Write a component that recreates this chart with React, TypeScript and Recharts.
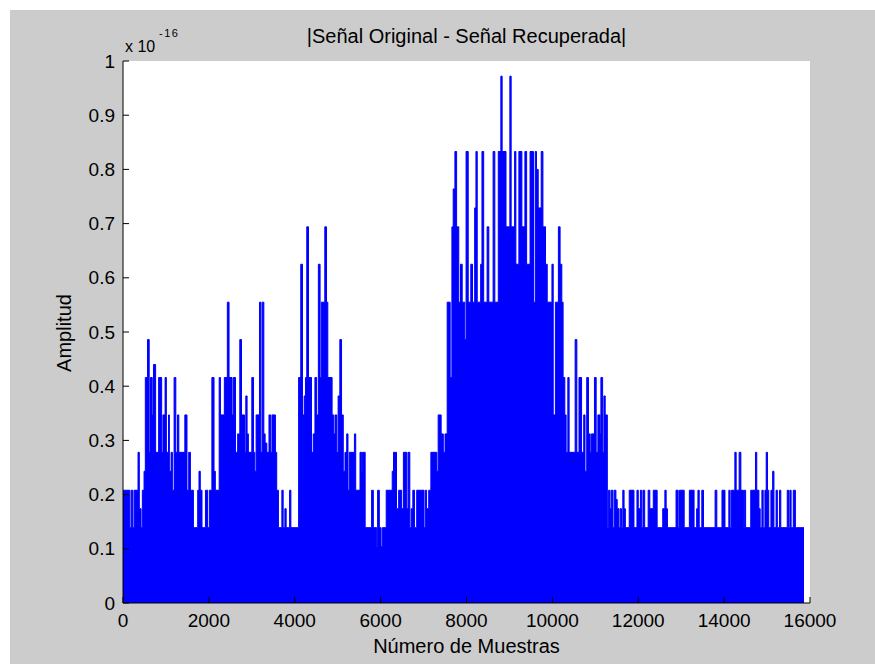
import { Area, AreaChart, CartesianGrid, XAxis, YAxis } from "recharts";

// índice de muestra donde cambia la envolvente de la señal de error
const muestras = [
  0, 160, 190, 230, 260, 350, 380, 420, 450, 490, 520, 570, 610, 640, 680, 710, 760, 830, 900, 930,
  980, 1010, 1060, 1080, 1120, 1150, 1190, 1230, 1270, 1300, 1440, 1490, 1530, 1570, 1640, 1740, 1770, 1800, 1840, 1920,
  1970, 2010, 2070, 2120, 2150, 2240, 2270, 2360, 2430, 2470, 2540, 2570, 2620, 2670,
  2720, 2760, 2830, 2860, 2890, 2920, 3000, 3040, 3070, 3100, 3180, 3210, 3240, 3280, 3310, 3350, 3400, 3440, 3470, 3550,
  3580, 3620, 3700, 3730, 3770, 3800, 3880, 3910, 4090, 4140, 4180, 4220, 4250, 4280, 4320, 4390, 4430, 4470, 4510, 4550,
  4590, 4620, 4700, 4740, 4770, 4870, 4910, 4940, 4980, 5010, 5050, 5090, 5130, 5170, 5210, 5240, 5270, 5390, 5420,
  5520, 5560, 5580, 5640, 5790, 5830, 5910, 5930, 5970, 6010, 6040, 6130, 6270, 6300, 6370, 6420, 6490, 6530, 6610, 6640,
  6680, 6710, 6750, 6790, 6840, 7010, 7040, 7070, 7120, 7170, 7310, 7340, 7410, 7460, 7500, 7550, 7620,
  7660, 7690, 7730, 7770, 7820, 7860, 7900, 7960, 7990, 8040, 8100, 8140, 8190, 8220, 8250, 8330, 8360, 8400, 8480, 8520,
  8620, 8660, 8740, 8800, 8830, 8920, 9010, 9040, 9120, 9150, 9220, 9290, 9360, 9400, 9480, 9560, 9600, 9630, 9670, 9740,
  9780, 9840, 9880, 9990, 10020, 10070, 10140, 10180, 10220, 10250, 10290, 10320, 10360, 10390, 10530, 10570, 10620, 10680,
  10730, 10760, 10800, 10840, 10880, 10910, 10980, 11020, 11060,
  11110, 11130, 11170, 11200, 11230, 11280, 11310, 11340, 11370, 11410, 11440, 11480, 11510, 11550, 11580, 11610, 11640,
  11670, 11700, 11790, 11900, 11970, 12000, 12050, 12080, 12110, 12150, 12230, 12270, 12350, 12440, 12570, 12620, 12650,
  12680, 12880, 12930, 12960, 13070, 13190, 13300, 13360, 13390, 13420, 13480, 13520,
  13790, 13830, 13950, 14020, 14110, 14140, 14170, 14250, 14280, 14350, 14390, 14450, 14470, 14500, 14620, 14730, 14760,
  14810, 14840, 14880, 14910, 14950, 14980, 15010, 15040, 15090, 15130, 15160, 15210, 15240, 15290, 15320, 15470, 15500,
  15530, 15560, 15610, 15660, 15860,
];

// |original - recuperada| en unidades de 1e-16
const amplitud = [
  0.208, 0.139, 0.208, 0.139, 0.208, 0.278, 0.174, 0.139, 0.208, 0.243, 0.416, 0.486, 0.278, 0.416, 0.347, 0.44, 0.278, 0.416, 0.278, 0.347,
  0.416, 0.278, 0.347, 0.243, 0.278, 0.208, 0.416, 0.278, 0.347, 0.278, 0.347, 0.208, 0.278, 0.208, 0.139, 0.208, 0.243, 0.208, 0.139, 0.208,
  0.139, 0.208, 0.416, 0.243, 0.208, 0.416, 0.347, 0.416, 0.555, 0.416, 0.347, 0.416, 0.278, 0.312,
  0.486, 0.347, 0.278, 0.382, 0.312, 0.278, 0.416, 0.278, 0.243, 0.347, 0.555, 0.278, 0.555, 0.312, 0.295, 0.278, 0.347, 0.278, 0.347, 0.278,
  0.208, 0.139, 0.208, 0.139, 0.174, 0.139, 0.208, 0.139, 0.416, 0.625, 0.347, 0.382, 0.416, 0.694, 0.416, 0.278, 0.312, 0.416, 0.347, 0.625,
  0.416, 0.555, 0.694, 0.555, 0.416, 0.347, 0.312, 0.347, 0.278, 0.382, 0.486, 0.347, 0.243, 0.278, 0.312, 0.208, 0.278, 0.312, 0.208,
  0.278, 0.243, 0.278, 0.139, 0.208, 0.139, 0.104, 0.208, 0.139, 0.104, 0.139, 0.208, 0.243, 0.278, 0.174, 0.208, 0.174, 0.278, 0.174, 0.278,
  0.139, 0.174, 0.208, 0.139, 0.208, 0.139, 0.208, 0.174, 0.208, 0.278, 0.243, 0.347, 0.312, 0.278, 0.312, 0.555, 0.416,
  0.694, 0.764, 0.833, 0.694, 0.555, 0.625, 0.555, 0.486, 0.833, 0.555, 0.625, 0.555, 0.729, 0.833, 0.555, 0.625, 0.833, 0.555, 0.694, 0.555,
  0.833, 0.555, 0.833, 0.972, 0.833, 0.694, 0.972, 0.694, 0.833, 0.625, 0.833, 0.694, 0.833, 0.625, 0.833, 0.555, 0.833, 0.8, 0.729, 0.833,
  0.694, 0.625, 0.555, 0.625, 0.347, 0.555, 0.694, 0.625, 0.555, 0.416, 0.347, 0.278, 0.416, 0.278, 0.486, 0.278, 0.416, 0.278,
  0.347, 0.243, 0.416, 0.312, 0.278, 0.312, 0.416, 0.278, 0.347,
  0.312, 0.416, 0.278, 0.382, 0.347, 0.139, 0.208, 0.174, 0.208, 0.139, 0.208, 0.191, 0.174, 0.139, 0.174, 0.139, 0.208,
  0.174, 0.139, 0.208, 0.139, 0.208, 0.174, 0.208, 0.139, 0.208, 0.139, 0.208, 0.174, 0.208, 0.139, 0.174, 0.208, 0.174,
  0.139, 0.208, 0.139, 0.208, 0.139, 0.208, 0.139, 0.174, 0.208, 0.139, 0.208, 0.139,
  0.208, 0.139, 0.208, 0.139, 0.208, 0.139, 0.208, 0.278, 0.208, 0.278, 0.208, 0.139, 0.208, 0.139, 0.208, 0.278, 0.208,
  0.174, 0.139, 0.208, 0.139, 0.208, 0.278, 0.208, 0.139, 0.208, 0.243, 0.139, 0.208, 0.139, 0.208, 0.139, 0.208, 0.139,
  0.208, 0.139, 0.208, 0.139, 0.139,
];

const xTicks = [0, 2000, 4000, 6000, 8000, 10000, 12000, 14000, 16000];
const yTicks = [0, 0.1, 0.2, 0.3, 0.4, 0.5, 0.6, 0.7, 0.8, 0.9, 1];

const data = muestras.map((m, i) => ({ muestra: m, amplitud: amplitud[i] }));

const FONT = "'Liberation Sans', Arial, Helvetica, sans-serif";
const TICK = 6;

function fmtY(v: number) {
  if (v === 0) return "0";
  if (v === 1) return "1";
  return v.toFixed(1);
}

const BottomTick = ({ x, y, payload }: any) => (
  <g>
    <line x1={x} y1={y} x2={x} y2={y - TICK} stroke="#000" />
    <text x={x} y={y + 24} textAnchor="middle" fontSize={19} fontFamily={FONT} fill="#000">
      {payload.value}
    </text>
  </g>
);

const TopTick = ({ x, y }: any) => <line x1={x} y1={y} x2={x} y2={y + TICK} stroke="#000" />;

const LeftTick = ({ x, y, payload }: any) => (
  <g>
    <line x1={x} y1={y} x2={x + TICK} y2={y} stroke="#000" />
    <text x={x - 8} y={y} dy="0.35em" textAnchor="end" fontSize={19} fontFamily={FONT} fill="#000">
      {fmtY(payload.value)}
    </text>
  </g>
);

const RightTick = ({ x, y }: any) => <line x1={x} y1={y} x2={x - TICK} y2={y} stroke="#000" />;

export default function App() {
  return (
    <div style={{ position: "absolute", left: 0, top: 0, width: 875, height: 664, background: "#fff" }}>
      <div style={{ position: "absolute", left: 10, top: 10, width: 865, height: 654, background: "#cccccc" }}>
        <AreaChart width={865} height={654} data={data} margin={{ top: 51, right: 65, bottom: 31, left: 73 }}>
          <CartesianGrid fill="#ffffff" stroke="none" />
          <XAxis
            dataKey="muestra"
            type="number"
            domain={[0, 16000]}
            ticks={xTicks}
            height={30}
            tickSize={0}
            tickMargin={0}
            tickLine={false}
            axisLine={{ stroke: "#000" }}
            tick={<BottomTick />}
            interval={0}
          />
          <XAxis
            xAxisId="top"
            orientation="top"
            type="number"
            domain={[0, 16000]}
            ticks={xTicks}
            height={0}
            tickSize={0}
            tickMargin={0}
            tickLine={false}
            axisLine={{ stroke: "#000" }}
            tick={<TopTick />}
            interval={0}
          />
          <YAxis
            type="number"
            domain={[0, 1]}
            ticks={yTicks}
            width={40}
            tickSize={0}
            tickMargin={0}
            tickLine={false}
            axisLine={{ stroke: "#000" }}
            tick={<LeftTick />}
            interval={0}
          />
          <YAxis
            yAxisId="right"
            orientation="right"
            type="number"
            domain={[0, 1]}
            ticks={yTicks}
            width={0}
            tickSize={0}
            tickMargin={0}
            tickLine={false}
            axisLine={{ stroke: "#000" }}
            tick={<RightTick />}
            interval={0}
          />
          <Area
            type="stepAfter"
            dataKey="amplitud"
            stroke="#0000ff"
            strokeWidth={1}
            fill="#0000ff"
            fillOpacity={1}
            dot={false}
            activeDot={false}
            isAnimationActive={false}
          />
        </AreaChart>
        <svg
          width={865}
          height={654}
          style={{ position: "absolute", left: 0, top: 0, pointerEvents: "none" }}
          fontFamily={FONT}
        >
          <text x={456.5} y={33} textAnchor="middle" fontSize={20} fill="#000">
            |Señal Original - Señal Recuperada|
          </text>
          <text x={115} y={42} fontSize={16} fill="#000">
            x 10
          </text>
          <text x={149} y={27} fontSize={11} fill="#000" letterSpacing={1.5}>
            -16
          </text>
          <text x={456.5} y={643} textAnchor="middle" fontSize={20} fill="#000">
            Número de Muestras
          </text>
          <text x={61} y={323} textAnchor="middle" fontSize={20} fill="#000" transform="rotate(-90, 61, 323)">
            Amplitud
          </text>
        </svg>
      </div>
    </div>
  );
}
